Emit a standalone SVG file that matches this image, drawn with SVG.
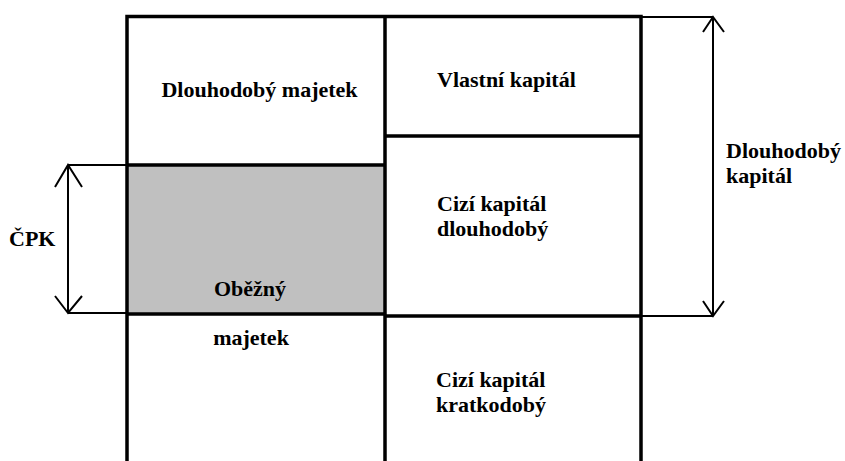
<svg xmlns="http://www.w3.org/2000/svg" width="845" height="461" viewBox="0 0 845 461">
<style>
.frame{stroke:#000;stroke-width:3.5;fill:none;stroke-linecap:square}
.dim{stroke:#000;stroke-width:2;fill:none}
.t{font-family:"Liberation Serif","Times New Roman",serif;font-weight:bold;font-size:22px;fill:#000}
</style>
<rect width="845" height="461" fill="#fff"/>
<g id="obezny-majetek">
<rect x="127" y="165" width="258" height="149" fill="#c0c0c0"/>
<text class="t" x="250" y="296" text-anchor="middle">Oběžný</text>
<text class="t" x="251" y="345" text-anchor="middle">majetek</text>
</g>
<g id="dlouhodoby-majetek">
<text class="t" x="259.5" y="97" text-anchor="middle">Dlouhodobý majetek</text>
</g>
<g id="vlastni-kapital">
<text class="t" x="437" y="87">Vlastní kapitál</text>
</g>
<g id="cizi-dlouhodoby">
<text class="t" x="437" y="211">Cizí kapitál</text>
<text class="t" x="437" y="236">dlouhodobý</text>
</g>
<g id="cizi-kratkodoby">
<text class="t" x="436" y="387">Cizí kapitál</text>
<text class="t" x="436" y="412">kratkodobý</text>
</g>
<g id="frame">
<path class="frame" d="M127 16.5H641M127 16.5V461M385 16.5V461M641 16.5V461M127 165H385M385 136H641M127 314H385M385 316H641"/>
</g>
<g id="cpk">
<text class="t" x="9" y="246">ČPK</text>
</g>
<g id="dlouhodoby-kapital">
<text class="t" x="726" y="158">Dlouhodobý</text>
<text class="t" x="726" y="183">kapitál</text>
</g>
<g id="connectors">
<path class="dim" d="M68 165H127M68 313H127M68 165V313M55 187L68 165L82 187M55 296L68 313L82 296"/>
<path class="dim" d="M641 17H713M641 316H713M713 17V316M703 32L713 17L724 32M703 301L713 316L724 301"/>
</g>
</svg>
